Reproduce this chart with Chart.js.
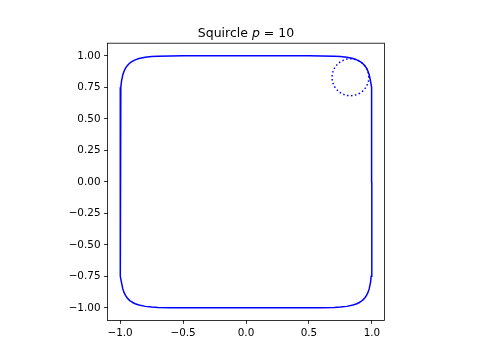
<!DOCTYPE html>
<html><head><meta charset="utf-8">
<script src="https://cdn.jsdelivr.net/npm/chart.js@4.4.1/dist/chart.umd.min.js"></script>
<style>html,body{margin:0;padding:0;background:#fff}#wrap{width:480px;height:360px;position:relative}</style>
</head><body><div id="wrap"><canvas id="c" width="480" height="360"></canvas></div>
<script>
// ---- data ----
const titleParts = ['Squircle ', 'p', ' = 10'];
const xTicks = [-1.0, -0.5, 0.0, 0.5, 1.0];
const xTickLabels = ['\u22121.0', '\u22120.5', '0.0', '0.5', '1.0'];
const yTicks = [-1.0, -0.75, -0.5, -0.25, 0.0, 0.25, 0.5, 0.75, 1.0];
const yTickLabels = ['\u22121.00', '\u22120.75', '\u22120.50', '\u22120.25', '0.00', '0.25', '0.50', '0.75', '1.00'];

// squircle |x|^10 + |y|^10 = 1, closed loop
const squircleX = [
  1,0.9999,0.9994,0.9971,0.9942,0.9887,0.9783,0.9679,0.958,0.95,0.9446,0.933,0.92,0.9127,0.9,0.88,0.85,0.8,0.75,0.7,0.6,0.5,0,
  -0.5,-0.6,-0.7,-0.75,-0.8,-0.85,-0.88,-0.9,-0.9127,-0.92,-0.933,-0.9446,-0.95,-0.958,-0.9679,-0.9783,-0.9887,-0.9942,-0.9971,-0.9994,-0.9999,-1,
  -0.9999,-0.9994,-0.9971,-0.9942,-0.9887,-0.9783,-0.9679,-0.958,-0.95,-0.9446,-0.933,-0.92,-0.9127,-0.9,-0.88,-0.85,-0.8,-0.75,-0.7,-0.6,-0.5,0,
  0.5,0.6,0.7,0.75,0.8,0.85,0.88,0.9,0.9127,0.92,0.933,0.9446,0.95,0.958,0.9679,0.9783,0.9887,0.9942,0.9971,0.9994,0.9999,1
];
const squircleY = [
  0,0.5,0.6,0.7,0.75,0.8,0.85,0.88,0.9,0.9127,0.92,0.933,0.9446,0.95,0.958,0.9679,0.9783,0.9887,0.9942,0.9971,0.9994,0.9999,1,
  0.9999,0.9994,0.9971,0.9942,0.9887,0.9783,0.9679,0.958,0.95,0.9446,0.933,0.92,0.9127,0.9,0.88,0.85,0.8,0.75,0.7,0.6,0.5,0,
  -0.5,-0.6,-0.7,-0.75,-0.8,-0.85,-0.88,-0.9,-0.9127,-0.92,-0.933,-0.9446,-0.95,-0.958,-0.9679,-0.9783,-0.9887,-0.9942,-0.9971,-0.9994,-0.9999,-1,
  -0.9999,-0.9994,-0.9971,-0.9942,-0.9887,-0.9783,-0.9679,-0.958,-0.95,-0.9446,-0.933,-0.92,-0.9127,-0.9,-0.88,-0.85,-0.8,-0.75,-0.7,-0.6,-0.5,0
];

// osculating circle at the corner (dotted)
const circleX = [0.9762,0.9740,0.9674,0.9566,0.9419,0.9238,0.9029,0.8797,0.8551,0.8296,0.8041,0.7795,0.7563,0.7354,0.7173,0.7026,0.6918,0.6852,0.6830,0.6852,0.6918,0.7026,0.7173,0.7354,0.7563,0.7795,0.8041,0.8296,0.8551,0.8797,0.9029,0.9238,0.9419,0.9566,0.9674,0.9740,0.9762];
const circleY = [0.8296,0.8551,0.8797,0.9029,0.9238,0.9419,0.9566,0.9674,0.9740,0.9762,0.9740,0.9674,0.9566,0.9419,0.9238,0.9029,0.8797,0.8551,0.8296,0.8041,0.7795,0.7563,0.7354,0.7173,0.7026,0.6918,0.6852,0.6830,0.6852,0.6918,0.7026,0.7173,0.7354,0.7563,0.7795,0.8041,0.8296];

const toPts = (xs, ys) => xs.map((x, i) => ({x: x, y: ys[i]}));

const FONT = '"DejaVu Sans", "Liberation Sans", sans-serif';

const framePlugin = {
  id: 'frame',
  afterDatasetsDraw(chart) {
    const a = chart.chartArea, ctx = chart.ctx;
    ctx.save();
    ctx.strokeStyle = '#000';
    ctx.lineWidth = 0.8;
    ctx.strokeRect(a.left, a.top, a.right - a.left, a.bottom - a.top);
    ctx.restore();
  },
  afterDraw(chart) {
    const a = chart.chartArea, ctx = chart.ctx;
    ctx.save();
    ctx.fillStyle = '#000';
    ctx.textBaseline = 'alphabetic';
    const fonts = ['12.5px ' + FONT, 'italic 12.5px ' + FONT, '12.5px ' + FONT];
    let widths = titleParts.map((t, i) => { ctx.font = fonts[i]; return ctx.measureText(t).width; });
    const total = widths.reduce((s, w) => s + w, 0);
    let x = (a.left + a.right) / 2 - total / 2;
    const y = a.top - 6.5;
    titleParts.forEach((t, i) => { ctx.font = fonts[i]; ctx.textAlign = 'left'; ctx.fillText(t, x, y); x += widths[i]; });
    ctx.restore();
  }
};

new Chart(document.getElementById('c'), {
  type: 'scatter',
  data: {
    datasets: [
      {data: toPts(squircleX, squircleY), showLine: true, borderColor: '#0000ff', borderWidth: 1.5, pointRadius: 0, fill: false},
      {data: toPts(circleX, circleY), showLine: true, borderColor: '#0000ff', borderWidth: 1.5, borderDash: [1.5, 2.475], pointRadius: 0, fill: false}
    ]
  },
  options: {
    responsive: false,
    animation: false,
    devicePixelRatio: 1,
    layout: {padding: {left: 0, right: 95.5, top: 43.2, bottom: 0}},
    plugins: {legend: {display: false}, title: {display: false}, tooltip: {enabled: false}},
    scales: {
      x: {
        type: 'linear', min: -1.1, max: 1.1,
        afterBuildTicks: s => { s.ticks = xTicks.map(v => ({value: v})); },
        afterFit: s => { s.height = 39.6; },
        grid: {drawOnChartArea: false, drawTicks: true, tickLength: 3.5, color: '#000', lineWidth: 0.8},
        border: {display: false},
        ticks: {font: {family: FONT, size: 10.4}, color: '#000', padding: 3.5, maxRotation: 0,
          callback: (v) => { const i = xTicks.indexOf(v); return i >= 0 ? xTickLabels[i] : ''; }}
      },
      y: {
        type: 'linear', min: -1.1, max: 1.1,
        afterBuildTicks: s => { s.ticks = yTicks.map(v => ({value: v})); },
        afterFit: s => { s.width = 107.5; },
        grid: {drawOnChartArea: false, drawTicks: true, tickLength: 3.5, color: '#000', lineWidth: 0.8},
        border: {display: false},
        ticks: {font: {family: FONT, size: 10.4}, color: '#000', padding: 3.5,
          callback: (v) => { const i = yTicks.indexOf(v); return i >= 0 ? yTickLabels[i] : ''; }}
      }
    }
  },
  plugins: [framePlugin]
});
</script>
</body></html>
